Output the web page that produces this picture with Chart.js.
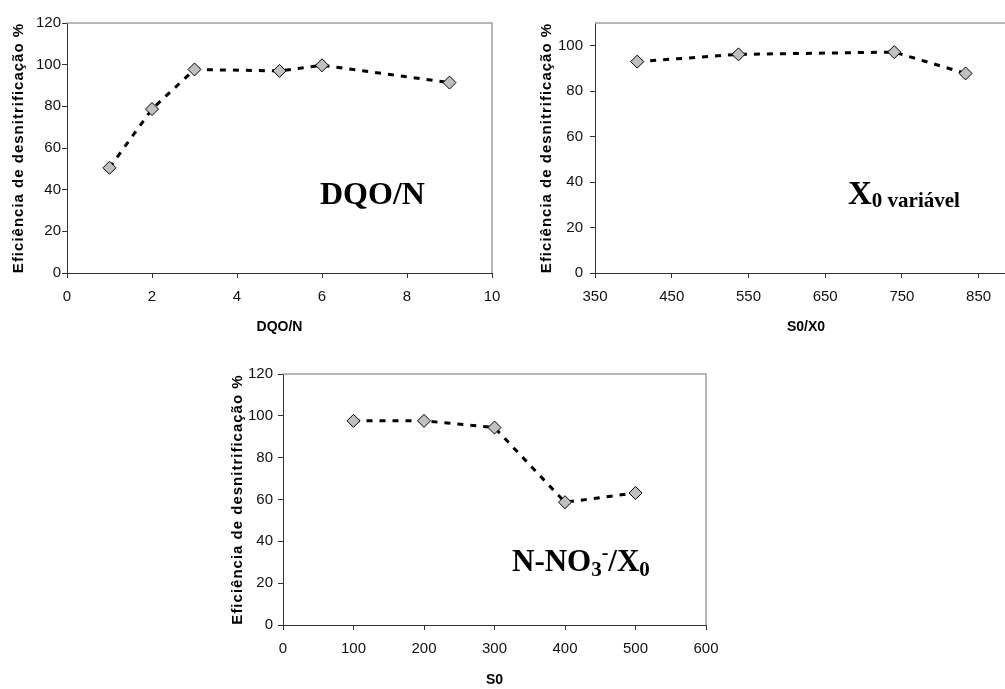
<!DOCTYPE html>
<html>
<head>
<meta charset="utf-8">
<script src="https://cdn.jsdelivr.net/npm/chart.js@4.4.1/dist/chart.umd.min.js"></script>
<style>
html, body { margin: 0; padding: 0; background: #fff; overflow: hidden; width: 1005px; height: 689px; }
.box { position: absolute; overflow: hidden; }
canvas { display: block; }
</style>
</head>
<body>
<div class="box" style="left:0;top:0;width:520px;height:340px"><canvas id="c1" width="520" height="340"></canvas></div>
<div class="box" style="left:520px;top:0;width:485px;height:340px"><canvas id="c2" width="540" height="340"></canvas></div>
<div class="box" style="left:220px;top:330px;width:520px;height:359px"><canvas id="c3" width="520" height="362"></canvas></div>
<script>
// DQO/N series
const dqoX = [1, 2, 3, 5, 6, 9];
const dqoY = [50.5, 78.7, 97.7, 97.0, 99.7, 91.4];
// S0/X0 series (X0 variável)
const s0x0X = [405, 537, 740, 833];
const s0x0Y = [93.0, 96.2, 97.2, 87.8];
// S0 series (N-NO3-/X0)
const s0X = [100, 200, 300, 400, 500];
const s0Y = [97.6, 97.6, 94.4, 58.7, 63.1];

// tick labels
const ticksDqo = [0, 2, 4, 6, 8, 10];
const ticksS0X0 = [350, 450, 550, 650, 750, 850];
const ticksS0 = [0, 100, 200, 300, 400, 500, 600];
const ticksPct = [0, 20, 40, 60, 80, 100, 120];
const ticksPct2 = [0, 20, 40, 60, 80, 100];

const yTitle = 'Eficiência de desnitrificação %';
const sans = '"Liberation Sans", Arial, sans-serif';
const serif = '"Liberation Serif", "Times New Roman", serif';

Chart.defaults.font.family = sans;

// grey top/right frame + big label inside the plot
function framePlugin(runs, x0, y0) {
  return {
    id: 'frame',
    beforeDatasetsDraw(chart) {
      const {ctx, chartArea: a} = chart;
      ctx.save();
      ctx.strokeStyle = '#a0a0a0';
      ctx.lineWidth = 1.5;
      ctx.beginPath();
      ctx.moveTo(a.left, a.top);
      ctx.lineTo(a.right, a.top);
      ctx.lineTo(a.right, a.bottom);
      ctx.stroke();
      ctx.restore();
    },
    afterDraw(chart) {
      const ctx = chart.ctx;
      ctx.save();
      ctx.fillStyle = '#000';
      ctx.textAlign = 'left';
      ctx.textBaseline = 'alphabetic';
      let x = x0;
      runs.forEach(r => {
        ctx.font = 'bold ' + r.size + 'px ' + serif;
        ctx.fillText(r.t, x, y0 + r.dy);
        x += ctx.measureText(r.t).width;
      });
      ctx.restore();
    }
  };
}

// spaced-out y title
const spacedTitle = {
  id: 'spacedTitle',
  afterLayout(chart) {
    const s = chart.scales.y;
    if (s._spaced) return;
    const base = s.drawTitle;
    s.drawTitle = function () {
      this.ctx.save();
      this.ctx.letterSpacing = '1px';
      base.call(this);
      this.ctx.restore();
    };
    s._spaced = true;
  }
};

function makeChart(id, xs, ys, o) {
  const pts = xs.map((x, i) => ({x: x, y: ys[i]}));
  return new Chart(document.getElementById(id), {
    type: 'line',
    data: {
      datasets: [{
        data: pts,
        borderColor: '#000',
        borderWidth: 3,
        borderDash: [6, 7],
        tension: 0,
        fill: false,
        pointStyle: 'rectRot',
        pointRadius: 6.5,
        pointBackgroundColor: '#c0c0c0',
        pointBorderColor: '#000',
        pointBorderWidth: 1
      }]
    },
    options: {
      responsive: false,
      animation: false,
      layout: {padding: o.pad},
      plugins: {legend: {display: false}, tooltip: {enabled: false}},
      scales: {
        x: {
          type: 'linear',
          min: o.xMin,
          max: o.xMax,
          afterBuildTicks: s => { s.ticks = o.xTicks.map(v => ({value: v})); },
          afterFit: s => { s.height = o.xh; },
          grid: {drawOnChartArea: false, tickLength: 5, color: '#333'},
          border: {color: '#333', width: 1},
          ticks: {autoSkip: false, maxRotation: 0, padding: 10, color: '#111', font: {size: 15}},
          title: {display: true, text: o.xTitle, color: '#000',
                  font: {size: 14, weight: 'bold'}, padding: {top: 0, bottom: o.xtPad}}
        },
        y: {
          min: 0,
          max: o.yMax,
          afterBuildTicks: s => { s.ticks = o.yTicks.map(v => ({value: v})); },
          afterFit: s => { s.width = o.yw; },
          grid: {drawOnChartArea: false, tickLength: 5, color: '#333'},
          border: {color: '#333', width: 1},
          ticks: {autoSkip: false, padding: o.ytPadTick, color: '#111', font: {size: 15}},
          title: {display: true, text: yTitle, color: '#000',
                  font: {size: 15, weight: 'bold'}, padding: {top: o.ytPad, bottom: 0}}
        }
      }
    },
    plugins: [spacedTitle, framePlugin(o.runs, o.tx, o.ty)]
  });
}

makeChart('c1', dqoX, dqoY, {
  pad: {left: 0, top: 23, right: 28, bottom: 0},
  xMin: 0, xMax: 10, xTicks: ticksDqo, xh: 67, xTitle: 'DQO/N', xtPad: 4,
  yMax: 120, yTicks: ticksPct, yw: 67, ytPad: 10, ytPadTick: 1,
  runs: [{t: 'DQO/N', size: 32, dy: 0}], tx: 320, ty: 204
});

makeChart('c2', s0x0X, s0x0Y, {
  pad: {left: 8, top: 23, right: 43, bottom: 0},
  xMin: 350, xMax: 900, xTicks: ticksS0X0, xh: 67, xTitle: 'S0/X0', xtPad: 4,
  yMax: 110, yTicks: ticksPct2, yw: 67, ytPad: 10, ytPadTick: 7,
  runs: [{t: 'X', size: 33, dy: 0}, {t: '0 variável', size: 21, dy: 3}], tx: 328, ty: 204
});

makeChart('c3', s0X, s0Y, {
  pad: {left: 0, top: 44, right: 34, bottom: 0},
  xMin: 0, xMax: 600, xTicks: ticksS0, xh: 67, xTitle: 'S0', xtPad: 3,
  yMax: 120, yTicks: ticksPct, yw: 63, ytPad: 9, ytPadTick: 5,
  runs: [
    {t: 'N-NO', size: 31, dy: 0},
    {t: '3', size: 21, dy: 5},
    {t: '-', size: 20, dy: -12},
    {t: '/X', size: 31, dy: 0},
    {t: '0', size: 21, dy: 5}
  ], tx: 292, ty: 241
});
</script>
</body>
</html>
